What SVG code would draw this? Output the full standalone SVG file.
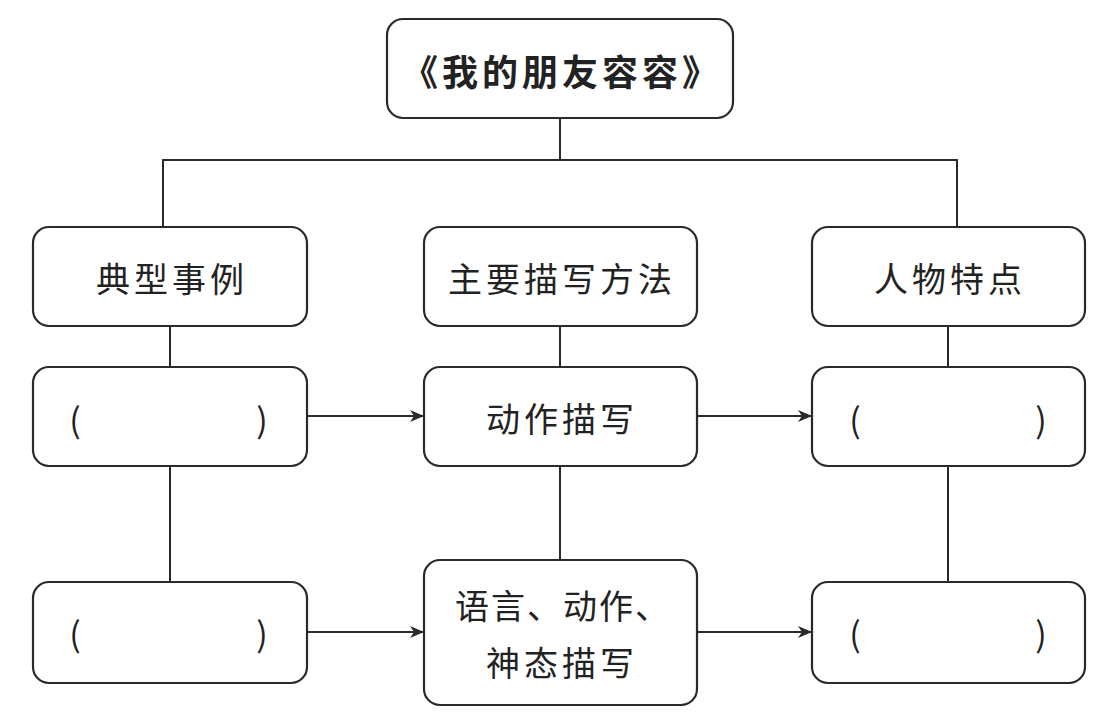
<svg xmlns="http://www.w3.org/2000/svg" width="1119" height="720" viewBox="0 0 1119 720">
<style>
.box{fill:#fff;stroke:#2a2a2a;stroke-width:2.2}
.ln{fill:none;stroke:#2a2a2a;stroke-width:2}
.t{font-family:"Noto Sans CJK SC","Noto Sans CJK JP",sans-serif;font-size:34px;fill:#222;text-anchor:middle;dominant-baseline:central;letter-spacing:4px}
.title{font-weight:bold;font-size:36px;letter-spacing:4px}
</style>
<defs>
<marker id="ah" viewBox="0 0 14 12" refX="13" refY="6" markerWidth="14" markerHeight="12" markerUnits="userSpaceOnUse" orient="auto">
<path d="M0,0 L14,6 L0,12 L4,6 Z" fill="#2a2a2a"/>
</marker>
</defs>
<rect width="1119" height="720" fill="#fff"/>
<g id="connectors">
<path class="ln" d="M560,118 V160 M163,227 V160 H957 V227"/>
<path class="ln" d="M170,326 V367 M170,466 V582"/>
<path class="ln" d="M560,326 V367 M560,466 V560"/>
<path class="ln" d="M948,326 V367 M948,466 V582"/>
<path class="ln" d="M307,416 H423" marker-end="url(#ah)"/>
<path class="ln" d="M697,416 H811" marker-end="url(#ah)"/>
<path class="ln" d="M307,632 H423" marker-end="url(#ah)"/>
<path class="ln" d="M697,632 H811" marker-end="url(#ah)"/>
</g>
<g id="title">
<rect class="box" x="387" y="19" width="346" height="99" rx="16"/>
<text class="t title" x="562" y="70">《我的朋友容容》</text>
</g>
<g id="examples">
<rect class="box" x="33" y="227" width="274" height="99" rx="16"/>
<text class="t" x="172" y="277">典型事例</text>
</g>
<g id="methods">
<rect class="box" x="424" y="227" width="273" height="99" rx="16"/>
<text class="t" x="562" y="277">主要描写方法</text>
</g>
<g id="traits">
<rect class="box" x="812" y="227" width="273" height="99" rx="16"/>
<text class="t" x="950" y="277">人物特点</text>
</g>
<g id="example1">
<rect class="box" x="33" y="367" width="274" height="99" rx="16"/>
<text class="t" x="77" y="418">(</text>
<text class="t" x="264" y="418">)</text>
</g>
<g id="method1">
<rect class="box" x="424" y="367" width="273" height="99" rx="16"/>
<text class="t" x="562" y="417">动作描写</text>
</g>
<g id="trait1">
<rect class="box" x="812" y="367" width="273" height="99" rx="16"/>
<text class="t" x="857" y="418">(</text>
<text class="t" x="1043" y="418">)</text>
</g>
<g id="example2">
<rect class="box" x="33" y="582" width="274" height="101" rx="16"/>
<text class="t" x="77" y="632">(</text>
<text class="t" x="264" y="632">)</text>
</g>
<g id="method2">
<rect class="box" x="424" y="560" width="273" height="145" rx="16"/>
<text class="t" x="563" y="604" style="letter-spacing:2px">语言、动作、</text>
<text class="t" x="562" y="661">神态描写</text>
</g>
<g id="trait2">
<rect class="box" x="812" y="582" width="273" height="101" rx="16"/>
<text class="t" x="857" y="632">(</text>
<text class="t" x="1043" y="632">)</text>
</g>
</svg>
